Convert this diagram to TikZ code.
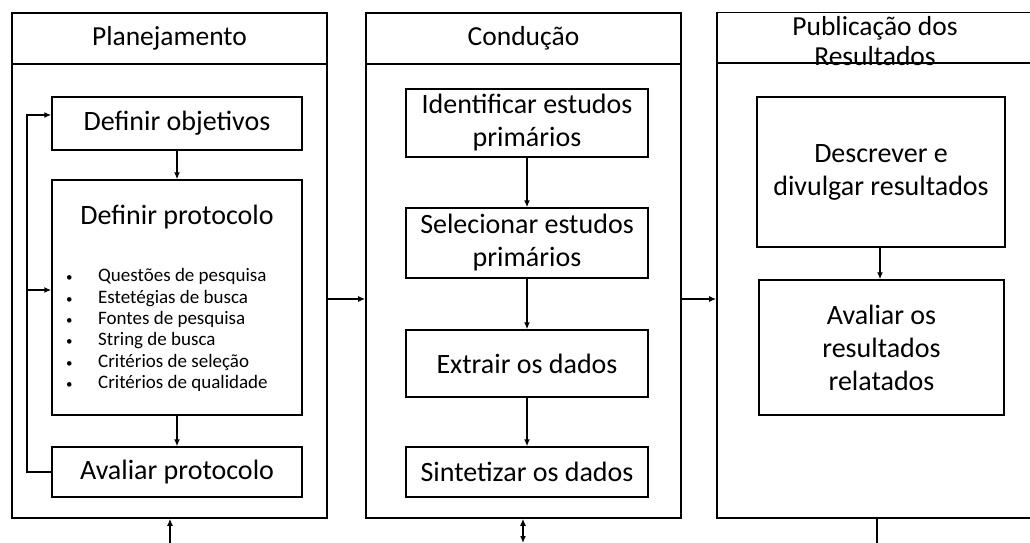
\documentclass[tikz,border=0pt]{standalone}
\usepackage{fontspec}
\setmainfont{Carlito}
\usepackage{tikz}
\usetikzlibrary{arrows.meta, positioning, calc}

\newcommand{\stagefont}{\fontsize{27.5}{30}\selectfont}
\newcommand{\boxfont}{\fontsize{28}{33}\selectfont}
\newcommand{\listfont}{\fontsize{19}{21.3}\selectfont}
\newcommand{\listdot}{\makebox[34pt][l]{\hspace{2pt}\fontsize{13}{13}\selectfont\textbullet}}

\tikzset{
  stage/.style={draw, line width=1.6pt, inner sep=0pt, font=\stagefont, align=center},
  stepbox/.style={draw, line width=1.4pt, inner sep=0pt, font=\boxfont, align=center},
  flow/.style={line width=1.4pt, -{Latex[length=7pt, width=6pt]}},
  twoway/.style={line width=1.4pt, {Latex[length=7pt, width=6pt]}-{Latex[length=7pt, width=6pt]}},
}

\begin{document}
\begin{tikzpicture}[x=1pt, y=-1pt]
  \useasboundingbox (0,0) rectangle (1030,543);

  % Three stages
  \node[stage, minimum width=315pt, minimum height=51pt] (planhead) at (169.5,38.5) {Planejamento};
  \node[stage, minimum width=315pt, minimum height=454pt] (plan) at (169.5,291) {};
  \node[stage, minimum width=315pt, minimum height=51pt] (condhead) at (523.5,38.5) {Condução};
  \node[stage, minimum width=315pt, minimum height=454pt] (cond) at (523.5,291) {};
  \node[stage, minimum width=316pt, minimum height=51pt] (pubhead) at (875,38) {};
  \node[font=\stagefont, align=center, inner sep=0pt] (pubtitle) at (875,41) {Publicação dos\\Resultados};
  \node[stage, minimum width=316pt, minimum height=455pt] (pub) at (875,290.5) {};

  % Planejamento
  \node[stepbox, minimum width=250pt, minimum height=53pt] (obj) at (177,123.5) {Definir objetivos};
  \node[stepbox, minimum width=250pt, minimum height=235pt] (prot) at (177,297.5) {};
  \node[font=\boxfont] (prottitle) at (177,217) {Definir protocolo};
  \node[font=\listfont, anchor=west, inner sep=0pt, align=left] (protlist) at (64,330) {%
    \listdot Questões de pesquisa\\
    \listdot Estetégias de busca\\
    \listdot Fontes de pesquisa\\
    \listdot String de busca\\
    \listdot Critérios de seleção\\
    \listdot Critérios de qualidade};
  \node[stepbox, minimum width=250pt, minimum height=50pt] (aval) at (177,472) {Avaliar protocolo};

  % Condução
  \node[stepbox, minimum width=242pt, minimum height=68pt] (ident) at (527,123) {Identificar estudos\\primários};
  \node[stepbox, minimum width=242pt, minimum height=70pt] (selec) at (527,243) {Selecionar estudos\\primários};
  \node[stepbox, minimum width=242pt, minimum height=67pt] (extr) at (527,363.5) {Extrair os dados};
  \node[stepbox, minimum width=242pt, minimum height=50pt] (sint) at (527,472) {Sintetizar os dados};

  % Publicação
  \node[stepbox, minimum width=248pt, minimum height=150pt] (descr) at (881,172) {Descrever e\\divulgar resultados};
  \node[stepbox, minimum width=245pt, minimum height=135pt] (avres) at (881.5,347.5) {Avaliar os\\resultados\\relatados};

  % flow inside the stages
  \draw[flow] (obj) -- (prot);
  \draw[flow] (prot) -- (aval);
  \draw[flow] (ident) -- (selec);
  \draw[flow] (selec) -- (extr);
  \draw[flow] (extr) -- (sint);
  \draw[flow] (descr.south -| 880,0) -- (avres.north -| 880,0);

  % loop back
  \coordinate (loop) at (27,290);
  \draw[flow] (aval.west) -- (aval.west -| loop) |- ([yshift=8.5pt]obj.west);
  \draw[flow] (loop) -- (loop -| prot.west);

  % between the stages
  \draw[flow] ([yshift=-8pt]plan.east) -- ([yshift=-8pt]plan.east -| cond.west);
  \draw[flow] ([yshift=-8pt]cond.east) -- ([yshift=-8pt]cond.east -| pub.west);

  % links below
  \coordinate (planlink) at (170,543);
  \coordinate (condlink) at (523,543);
  \coordinate (publink) at (877,543);
  \draw[flow] (planlink) -- (planlink |- plan.south);
  \draw[twoway] (condlink) -- (condlink |- cond.south);
  \draw[line width=1.4pt] (publink |- pub.south) -- (publink);
\end{tikzpicture}
\end{document}
